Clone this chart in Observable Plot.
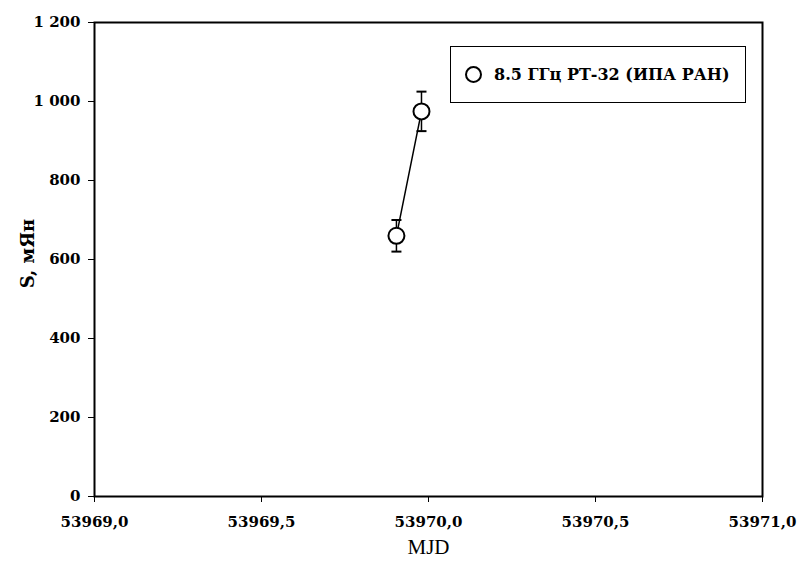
<!DOCTYPE html>
<html>
<head>
<meta charset="utf-8">
<script src="https://cdn.jsdelivr.net/npm/d3@7"></script>
<script src="https://cdn.jsdelivr.net/npm/@observablehq/plot@0.6"></script>
<style>
  html, body { margin: 0; padding: 0; background: #fff; }
  #wrap { position: relative; width: 798px; height: 562px; }
  #legend {
    position: absolute; left: 450px; top: 46px; width: 296px; height: 57px;
    border: 1.5px solid #000; box-sizing: border-box; background: #fff;
    font-family: "DejaVu Serif", serif; font-weight: bold; font-size: 16px;
    display: flex; align-items: center; padding-left: 14px;
  }
  #legend .sym { width: 13px; height: 13px; border: 2px solid #000; border-radius: 50%; margin-right: 12px; }
</style>
</head>
<body>
<div id="wrap"></div>
<script>
const mjd = [53969.904, 53969.979];
const flux = [660, 975];
const fluxErr = [40, 50];
const seriesName = "8.5 ГГц РТ-32 (ИПА РАН)";
const xTicks = [53969.0, 53969.5, 53970.0, 53970.5, 53971.0];
const yTicks = [0, 200, 400, 600, 800, 1000, 1200];

const data = mjd.map((x, i) => ({x, y: flux[i], lo: flux[i] - fluxErr[i], hi: flux[i] + fluxErr[i]}));
const cap = {draw(ctx, size) { const w = 5; ctx.moveTo(-w, 0); ctx.lineTo(w, 0); }};
const fmtY = v => v >= 1000 ? Math.floor(v / 1000) + " " + String(v % 1000).padStart(3, "0") : String(v);
const fmtX = v => v.toFixed(1).replace(".", ",");

const chart = Plot.plot({
  width: 798, height: 562,
  marginLeft: 94, marginRight: 36, marginTop: 22, marginBottom: 66,
  style: {fontFamily: "'DejaVu Serif', serif", fontSize: "15px", color: "#000", background: "#fff"},
  x: {domain: [53969, 53971], ticks: xTicks, tickFormat: fmtX, label: null},
  y: {domain: [0, 1200], ticks: yTicks, tickFormat: fmtY, label: null},
  marks: [
    Plot.frame({stroke: "#000", strokeWidth: 2}),
    Plot.axisX({ticks: xTicks, tickFormat: fmtX, tickSize: 6, tickPadding: 14, stroke: "#000", strokeWidth: 1, fontWeight: "bold", fontSize: 15}),
    Plot.axisY({ticks: yTicks, tickFormat: fmtY, tickSize: 6, tickPadding: 8, stroke: "#000", strokeWidth: 1, fontWeight: "bold", fontSize: 15}),
    Plot.ruleX(data, {x: "x", y1: "lo", y2: "hi", stroke: "#000", strokeWidth: 1.5}),
    Plot.dot(data, {x: "x", y: "lo", symbol: cap, r: 5, stroke: "#000", strokeWidth: 2}),
    Plot.dot(data, {x: "x", y: "hi", symbol: cap, r: 5, stroke: "#000", strokeWidth: 2}),
    Plot.line(data, {x: "x", y: "y", stroke: "#000", strokeWidth: 1.5}),
    Plot.dot(data, {x: "x", y: "y", r: 8, fill: "#fff", stroke: "#000", strokeWidth: 2}),
    Plot.text(["MJD"], {frameAnchor: "bottom", dy: 57, fontSize: 21, fontWeight: "normal", fontFamily: "'Liberation Serif', serif"}),
    Plot.text(["S, мЯн"], {frameAnchor: "left", dx: -66, dy: -6, rotate: -90, textAnchor: "middle", fontSize: 18, fontWeight: "bold"})
  ]
});
const wrap = document.getElementById("wrap");
wrap.appendChild(chart);
const lg = document.createElement("div");
lg.id = "legend";
lg.innerHTML = `<div class="sym"></div><span>${seriesName}</span>`;
wrap.appendChild(lg);
</script>
</body>
</html>
